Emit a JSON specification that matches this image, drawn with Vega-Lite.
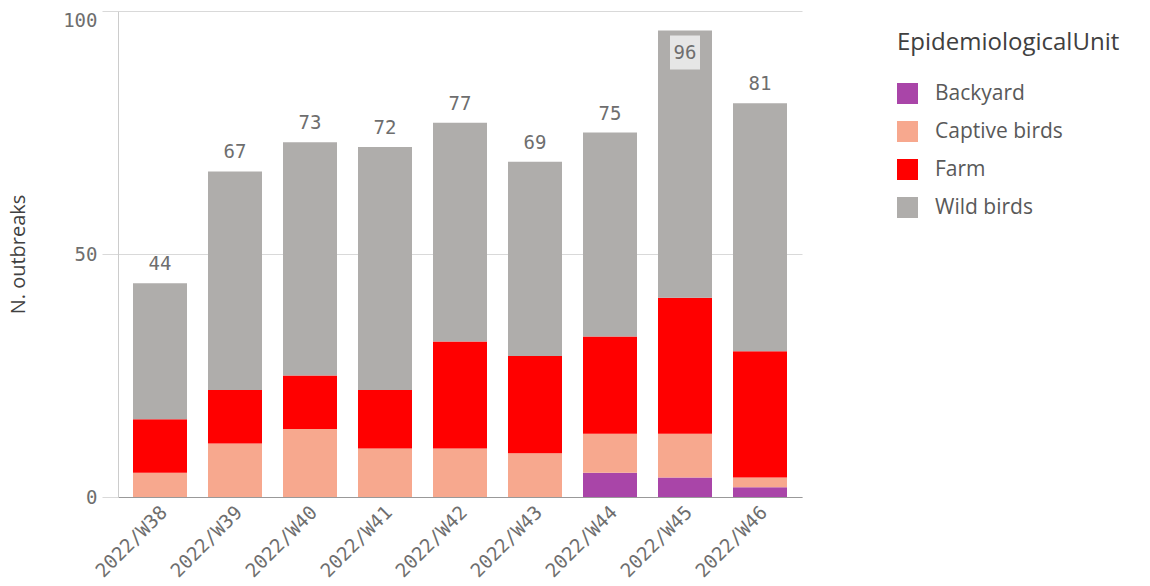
{
  "$schema": "https://vega.github.io/schema/vega-lite/v6.json",
  "width": 684,
  "height": 486,
  "autosize": {"type": "none"},
  "padding": {"left": 118, "top": 11, "right": 348, "bottom": 89},
  "background": "white",
  "config": {"view": {"stroke": null}},
  "data": {
    "values": [
      {"week": "2022/W38", "unit": "Captive birds", "n": 5},
      {"week": "2022/W38", "unit": "Farm", "n": 11},
      {"week": "2022/W38", "unit": "Wild birds", "n": 28},
      {"week": "2022/W39", "unit": "Captive birds", "n": 11},
      {"week": "2022/W39", "unit": "Farm", "n": 11},
      {"week": "2022/W39", "unit": "Wild birds", "n": 45},
      {"week": "2022/W40", "unit": "Captive birds", "n": 14},
      {"week": "2022/W40", "unit": "Farm", "n": 11},
      {"week": "2022/W40", "unit": "Wild birds", "n": 48},
      {"week": "2022/W41", "unit": "Captive birds", "n": 10},
      {"week": "2022/W41", "unit": "Farm", "n": 12},
      {"week": "2022/W41", "unit": "Wild birds", "n": 50},
      {"week": "2022/W42", "unit": "Captive birds", "n": 10},
      {"week": "2022/W42", "unit": "Farm", "n": 22},
      {"week": "2022/W42", "unit": "Wild birds", "n": 45},
      {"week": "2022/W43", "unit": "Captive birds", "n": 9},
      {"week": "2022/W43", "unit": "Farm", "n": 20},
      {"week": "2022/W43", "unit": "Wild birds", "n": 40},
      {"week": "2022/W44", "unit": "Backyard", "n": 5},
      {"week": "2022/W44", "unit": "Captive birds", "n": 8},
      {"week": "2022/W44", "unit": "Farm", "n": 20},
      {"week": "2022/W44", "unit": "Wild birds", "n": 42},
      {"week": "2022/W45", "unit": "Backyard", "n": 4},
      {"week": "2022/W45", "unit": "Captive birds", "n": 9},
      {"week": "2022/W45", "unit": "Farm", "n": 28},
      {"week": "2022/W45", "unit": "Wild birds", "n": 55},
      {"week": "2022/W46", "unit": "Backyard", "n": 2},
      {"week": "2022/W46", "unit": "Captive birds", "n": 2},
      {"week": "2022/W46", "unit": "Farm", "n": 26},
      {"week": "2022/W46", "unit": "Wild birds", "n": 51}
    ]
  },
  "encoding": {
    "x": {
      "field": "week", "type": "nominal",
      "scale": {"paddingInner": 0.28, "paddingOuter": 0.2},
      "axis": {
        "title": null, "labelAngle": -45, "labelAlign": "right", "labelBaseline": "middle",
        "labelFont": "DejaVu Sans Mono", "labelFontSize": 19, "labelColor": "#6e6e6e",
        "labelPadding": 12, "labelOffset": 4, "ticks": false, "domain": true, "domainColor": "#999999",
        "domainWidth": 1
      }
    }
  },
  "layer": [
    {
      "mark": {"type": "bar"},
      "encoding": {
        "y": {
          "field": "n", "type": "quantitative", "aggregate": "sum", "stack": "zero",
          "scale": {"domain": [0, 100], "nice": false},
          "axis": {
            "title": "N. outbreaks", "titleFont": "Open Sans", "titleFontSize": 20,
            "titleFontWeight": "normal", "titleColor": "#404040", "titlePadding": 34,
            "values": [0, 50, 100], "labelFont": "DejaVu Sans Mono", "labelFontSize": 19,
            "labelColor": "#6e6e6e", "labelPadding": 5, "tickSize": 16, "tickColor": "#d9d9d9",
            "domain": true, "domainColor": "#cccccc", "grid": true, "gridColor": "#d9d9d9",
            "labelBaseline": {"condition": {"test": "datum.value == 100", "value": "top"}, "value": "middle"}
          }
        },
        "color": {
          "field": "unit", "type": "nominal",
          "scale": {
            "domain": ["Backyard", "Captive birds", "Farm", "Wild birds"],
            "range": ["#a945a8", "#f7a88e", "#ff0000", "#afadab"]
          },
          "legend": {
            "title": "EpidemiologicalUnit", "orient": "none", "legendX": 779, "legendY": 20,
            "padding": 0, "titleLimit": 400, "labelLimit": 300,
            "titleFont": "Open Sans", "titleFontSize": 24, "titleFontWeight": "normal",
            "titleColor": "#404040", "titlePadding": 28,
            "labelFont": "Open Sans", "labelFontSize": 21, "labelColor": "#595959",
            "symbolType": "square", "symbolSize": 441, "symbolStrokeWidth": 0,
            "symbolOffset": 0, "rowPadding": 16, "labelOffset": 17, "offset": 0
          }
        },
        "order": {"field": "unit", "sort": "ascending"}
      }
    },
    {
      "transform": [
        {"aggregate": [{"op": "sum", "field": "n", "as": "total"}], "groupby": ["week"]},
        {"filter": "datum.total <= 90"}
      ],
      "mark": {"type": "text", "baseline": "alphabetic", "dy": -13, "font": "DejaVu Sans Mono", "fontSize": 19, "color": "#6e6e6e"},
      "encoding": {
        "y": {"field": "total", "type": "quantitative"},
        "text": {"field": "total", "type": "quantitative"}
      }
    },
    {
      "transform": [
        {"aggregate": [{"op": "sum", "field": "n", "as": "total"}], "groupby": ["week"]},
        {"filter": "datum.total > 90"}
      ],
      "mark": {"type": "point", "shape": "M-1,-1.13L1,-1.13L1,1.13L-1,1.13Z", "size": 900, "filled": true, "color": "#e6e6e6", "opacity": 1, "yOffset": 22},
      "encoding": {
        "y": {"field": "total", "type": "quantitative"}
      }
    },
    {
      "transform": [
        {"aggregate": [{"op": "sum", "field": "n", "as": "total"}], "groupby": ["week"]},
        {"filter": "datum.total > 90"}
      ],
      "mark": {"type": "text", "baseline": "middle", "dy": 23, "font": "DejaVu Sans Mono", "fontSize": 19, "color": "#6e6e6e"},
      "encoding": {
        "y": {"field": "total", "type": "quantitative"},
        "text": {"field": "total", "type": "quantitative"}
      }
    }
  ]
}
